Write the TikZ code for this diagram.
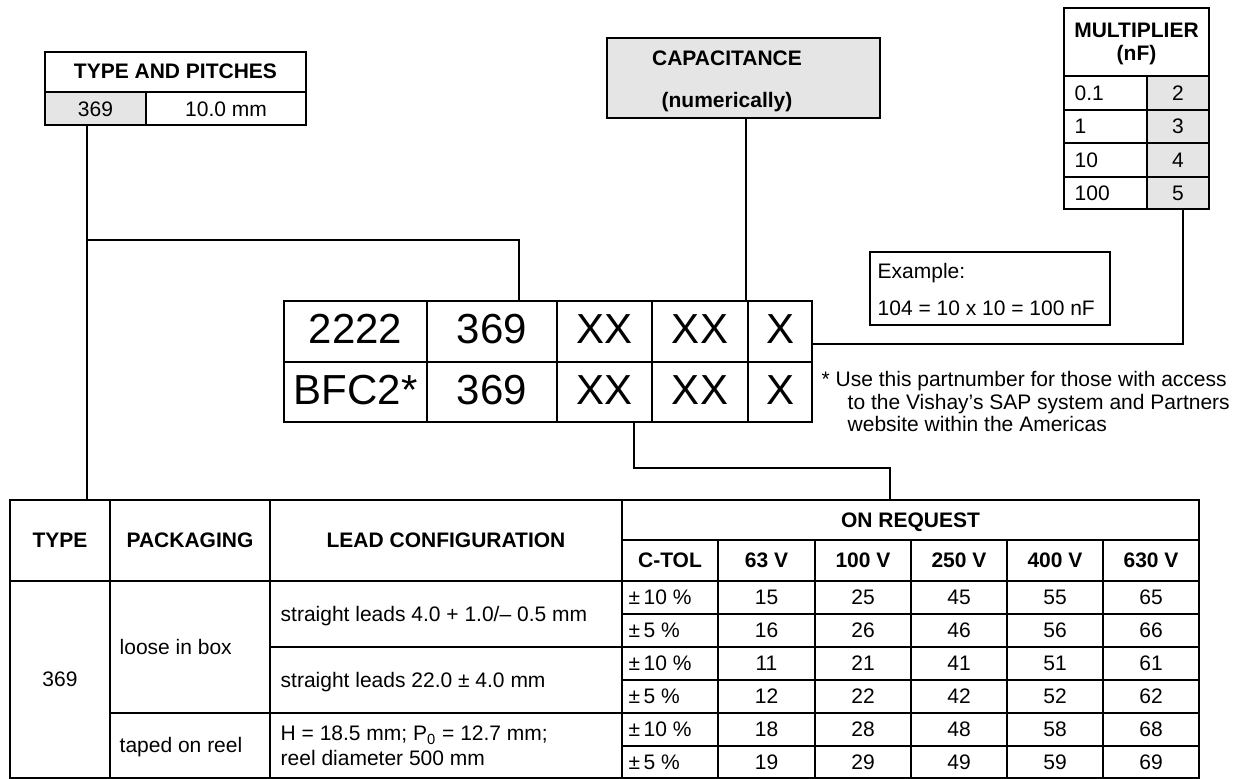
\documentclass[tikz,border=0pt]{standalone}
\usepackage{fontspec}
\setmainfont{Liberation Sans}
\usetikzlibrary{positioning}

\tikzset{
  lbl/.style={inner sep=0pt, text height=7.5pt, text depth=0pt, font=\fontsize{10.5}{12}\selectfont},
  lblb/.style={lbl, font=\fontsize{10.5}{12}\selectfont\bfseries},
  lblw/.style={lbl, anchor=west},
  code/.style={inner sep=0pt, anchor=base, font=\fontsize{21}{24}\selectfont},
  shade/.style={fill=black!10},
  rule/.style={line width=0.7pt},
  heavy/.style={line width=1pt},
}

\begin{document}
\begin{tikzpicture}[x=0.5pt, y=-0.5pt, rule]
\useasboundingbox (0,0) rectangle (1237,779);

% type and pitches
\fill[shade] (45,92) rectangle (146,125);
\draw (45,52) rectangle (306,125) (45,92) -- (306,92) (146,92) -- (146,125);
\node[lblb] (tphead) at (175.5,71.5) {TYPE AND PITCHES};
\node[lbl] (tptype) at (95.5,109) {369};
\node[lbl] (tppitch) at (226,109) {10.0 mm};

% capacitance
\draw[shade, line width=1.35pt] (607,38) rectangle (880,118);
\node[lblb, anchor=base] (caphead) at (727,66) {CAPACITANCE};
\node[lblb, anchor=base] (capnote) at (727,108) {(numerically)};

% multiplier
\fill[shade] (1147,76) rectangle (1209,209);
\draw[heavy] (1064,8) rectangle (1209,209) (1147,76) -- (1147,209);
\foreach \y in {76,110,143,177} \draw[heavy] (1064,\y) -- (1209,\y);
\node[lblb, anchor=base] (mulhead) at (1136.5,38) {MULTIPLIER};
\node[lblb, anchor=base] (mulunit) at (1136.5,60.5) {(nF)};
\foreach \v/\d/\y in {0.1/2/93, 1/3/126.5, 10/4/160, 100/5/193} {
  \node[lblw] (mulv\d) at (1074,\y) {\v};
  \node[lbl] (muld\d) at (1178,\y) {\d};
}

% example
\draw (870,252) rectangle (1110,325);
\node[lbl, anchor=base west] (exhead) at (877,278.5) {Example:};
\node[lbl, anchor=base west] (exsum) at (877,315.5) {104 = 10 x 10 = 100 nF};

% part number
\draw (284,301) rectangle (427,422) (284,362) -- (427,362);
\draw[heavy] (427,301) rectangle (812,422) (427,362) -- (812,362);
\foreach \x in {557,652,748} \draw[heavy] (\x,301) -- (\x,422);
\foreach \t/\x/\n in {2222/355.5/a, 369/492/b, XX/604.5/c, XX/700/d, X/780/e}
  \node[code] (top\n) at (\x,344) {\t};
\foreach \t/\x/\n in {BFC2*/355.5/a, 369/492/b, XX/604.5/c, XX/700/d, X/780/e}
  \node[code] (bot\n) at (\x,404.5) {\t};

\node[lbl, anchor=base west] (note1) at (821,387) {* Use this partnumber for those with access};
\node[lbl, anchor=base west] (note2) at (847,409.5) {to the Vishay’s SAP system and Partners};
\node[lbl, anchor=base west] (note3) at (847,432) {website within the Americas};

% ordering table
\draw (10,500) rectangle (1199,778);
\foreach \x in {110,270,622} \draw (\x,500) -- (\x,778);
\foreach \x in {718,815,911,1007,1103} \draw (\x,540) -- (\x,778);
\draw (622,540) -- (1199,540);
\draw (10,581) -- (1199,581);
\foreach \y in {614,680,746} \draw (622,\y) -- (1199,\y);
\draw (270,647) -- (1199,647);
\draw (110,713) -- (1199,713);

\node[lblb] (hdtype) at (60,540.5) {TYPE};
\node[lblb] (hdpack) at (190,540.5) {PACKAGING};
\node[lblb] (hdlead) at (446,540.5) {LEAD CONFIGURATION};
\node[lblb] (hdreq) at (910.5,520) {ON REQUEST};
\foreach \t/\x [count=\i] in {C-TOL/670, 63 V/766.5, 100 V/863, 250 V/959, 400 V/1055, 630 V/1151}
  \node[lblb] (hdv\i) at (\x,560.5) {\t};

\node[lbl] (bdtype) at (60,679.5) {369};
\node[lblw] (bdloose) at (119,647) {loose in box};
\node[lblw] (bdtaped) at (119,745.5) {taped on reel};
\node[lblw] (bdleada) at (280,614) {straight leads 4.0 + 1.0/– 0.5 mm};
\node[lblw] (bdleadb) at (280,680) {straight leads 22.0 ± 4.0 mm};
\node[lbl, anchor=base west] (bdleadc) at (280,741) {H = 18.5 mm; P\textsubscript{0} = 12.7 mm;};
\node[lbl, anchor=base west] (bdleadd) at (280,766) {reel diameter 500 mm};

\foreach \tol/\a/\b/\c/\d/\e/\y in {10/15/25/45/55/65/597.5, 5/16/26/46/56/66/630.5,
    10/11/21/41/51/61/663.5, 5/12/22/42/52/62/696.5, 10/18/28/48/58/68/729.5, 5/19/29/49/59/69/762} {
  \node[lblw] (tol\a) at (628,\y) {±\,\tol~\%};
  \node[lbl] (v\a) at (766.5,\y) {\a};
  \node[lbl] (v\b) at (863,\y) {\b};
  \node[lbl] (v\c) at (959,\y) {\c};
  \node[lbl] (v\d) at (1055,\y) {\d};
  \node[lbl] (v\e) at (1151,\y) {\e};
}

% connectors
\coordinate (tpfoot) at (87,125);
\coordinate (tpjoin) at (87,240);
\coordinate (tptab) at (87,500);
\coordinate (codetype) at (519,301);
\draw (tpfoot) -- (tptab);
\draw (tpjoin) -| (codetype);

\coordinate (capfoot) at (746,118);
\coordinate (codecap) at (746,301);
\draw (capfoot) -- (codecap);

\coordinate (mulfoot) at (1183,209);
\coordinate (codemul) at (812,344);
\draw (mulfoot) |- (codemul);

\coordinate (codevolt) at (634,422);
\coordinate (reqtop) at (890,500);
\draw (codevolt) -- ++(0,46) -| (reqtop);
\end{tikzpicture}
\end{document}
